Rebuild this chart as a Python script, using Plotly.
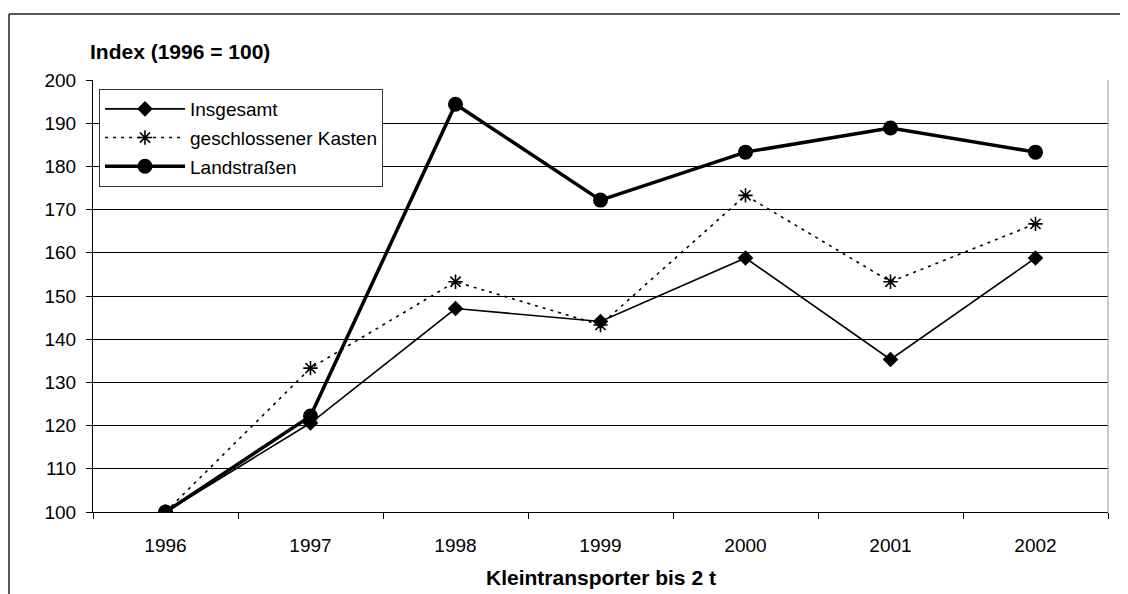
import plotly.graph_objects as go

years = ["1996", "1997", "1998", "1999", "2000", "2001", "2002"]
insgesamt = [100, 120.6, 147.1, 144.1, 158.8, 135.3, 158.8]
kasten = [100, 133.3, 153.3, 143.3, 173.3, 153.3, 166.7]
landstrassen = [100, 122.2, 194.4, 172.2, 183.3, 188.9, 183.3]
y_ticks = list(range(100, 201, 10))

FONT = "Liberation Sans, Arial, sans-serif"

fig = go.Figure()
fig.add_trace(go.Scatter(
    x=years, y=insgesamt, name="Insgesamt", mode="lines+markers",
    line=dict(color="black", width=1.6),
    marker=dict(symbol="diamond", size=12, color="black"),
    legendgroup="a"))
fig.add_trace(go.Scatter(
    x=years, y=kasten, name="geschlossener Kasten", mode="lines+markers",
    line=dict(color="black", width=1.6, dash="3px,5px"),
    marker=dict(symbol="asterisk-open", size=12, color="black",
                line=dict(color="black", width=1.6)),
    legendgroup="b"))
fig.add_trace(go.Scatter(
    x=years, y=landstrassen, name="Landstraßen", mode="lines+markers",
    line=dict(color="black", width=3.5),
    marker=dict(symbol="circle", size=15, color="black"),
    legendgroup="c"))

OFF = 8  # page body margin
W, H = 1120, 586
L, T = 93 - OFF, 80 - OFF
R = W - (1108 - OFF)
B = H - (512 - OFF)
pw, ph = W - L - R, H - T - B

def px_x(sx):
    return (sx - OFF - L) / pw

def px_y(sy):
    return (H - B - (sy - OFF)) / ph

frame = dict(color="#222", width=1.5)

fig.update_layout(
    width=W, height=H,
    margin=dict(l=L, r=R, t=T, b=B),
    paper_bgcolor="white", plot_bgcolor="white",
    font=dict(family=FONT, size=19, color="black"),
    showlegend=True,
    legend=dict(
        x=px_x(99), y=px_y(89), xanchor="left", yanchor="top",
        bgcolor="white", bordercolor="#333", borderwidth=1,
        font=dict(size=19), itemwidth=80, tracegroupgap=1,
        traceorder="grouped"),
    xaxis=dict(
        type="category", tickson="boundaries", showgrid=False,
        showline=True, linecolor="black", linewidth=1,
        ticks="outside", ticklen=6, tickcolor="black",
        ticklabelstandoff=16,
        tickfont=dict(size=19),
        range=[-0.5, 6.5]),
    yaxis=dict(
        range=[100, 200], tickvals=y_ticks,
        showgrid=True, gridcolor="black", gridwidth=1,
        showline=True, linecolor="black", linewidth=1,
        ticks="outside", ticklen=6, tickcolor="black",
        ticklabelstandoff=6,
        tickfont=dict(size=19), zeroline=False),
    shapes=[
        dict(type="line", xref="paper", yref="paper",
             x0=1, x1=1, y0=0, y1=1, line=dict(color="#999", width=1)),
        dict(type="line", xref="paper", yref="paper",
             x0=px_x(9), x1=px_x(1135), y0=px_y(14), y1=px_y(14),
             line=frame),
        dict(type="line", xref="paper", yref="paper",
             x0=px_x(9), x1=px_x(9), y0=px_y(14), y1=px_y(600),
             line=frame),
    ],
    annotations=[
        dict(text="<b>Index (1996 = 100)</b>", xref="paper", yref="paper",
             x=px_x(88), y=px_y(51), xanchor="left", yanchor="middle",
             showarrow=False, font=dict(size=21)),
        dict(text="<b>Kleintransporter bis 2 t</b>", xref="paper", yref="paper",
             x=0.5, y=px_y(577), xanchor="center", yanchor="middle",
             showarrow=False, font=dict(size=21)),
    ],
)

fig.write_html("out.html")
